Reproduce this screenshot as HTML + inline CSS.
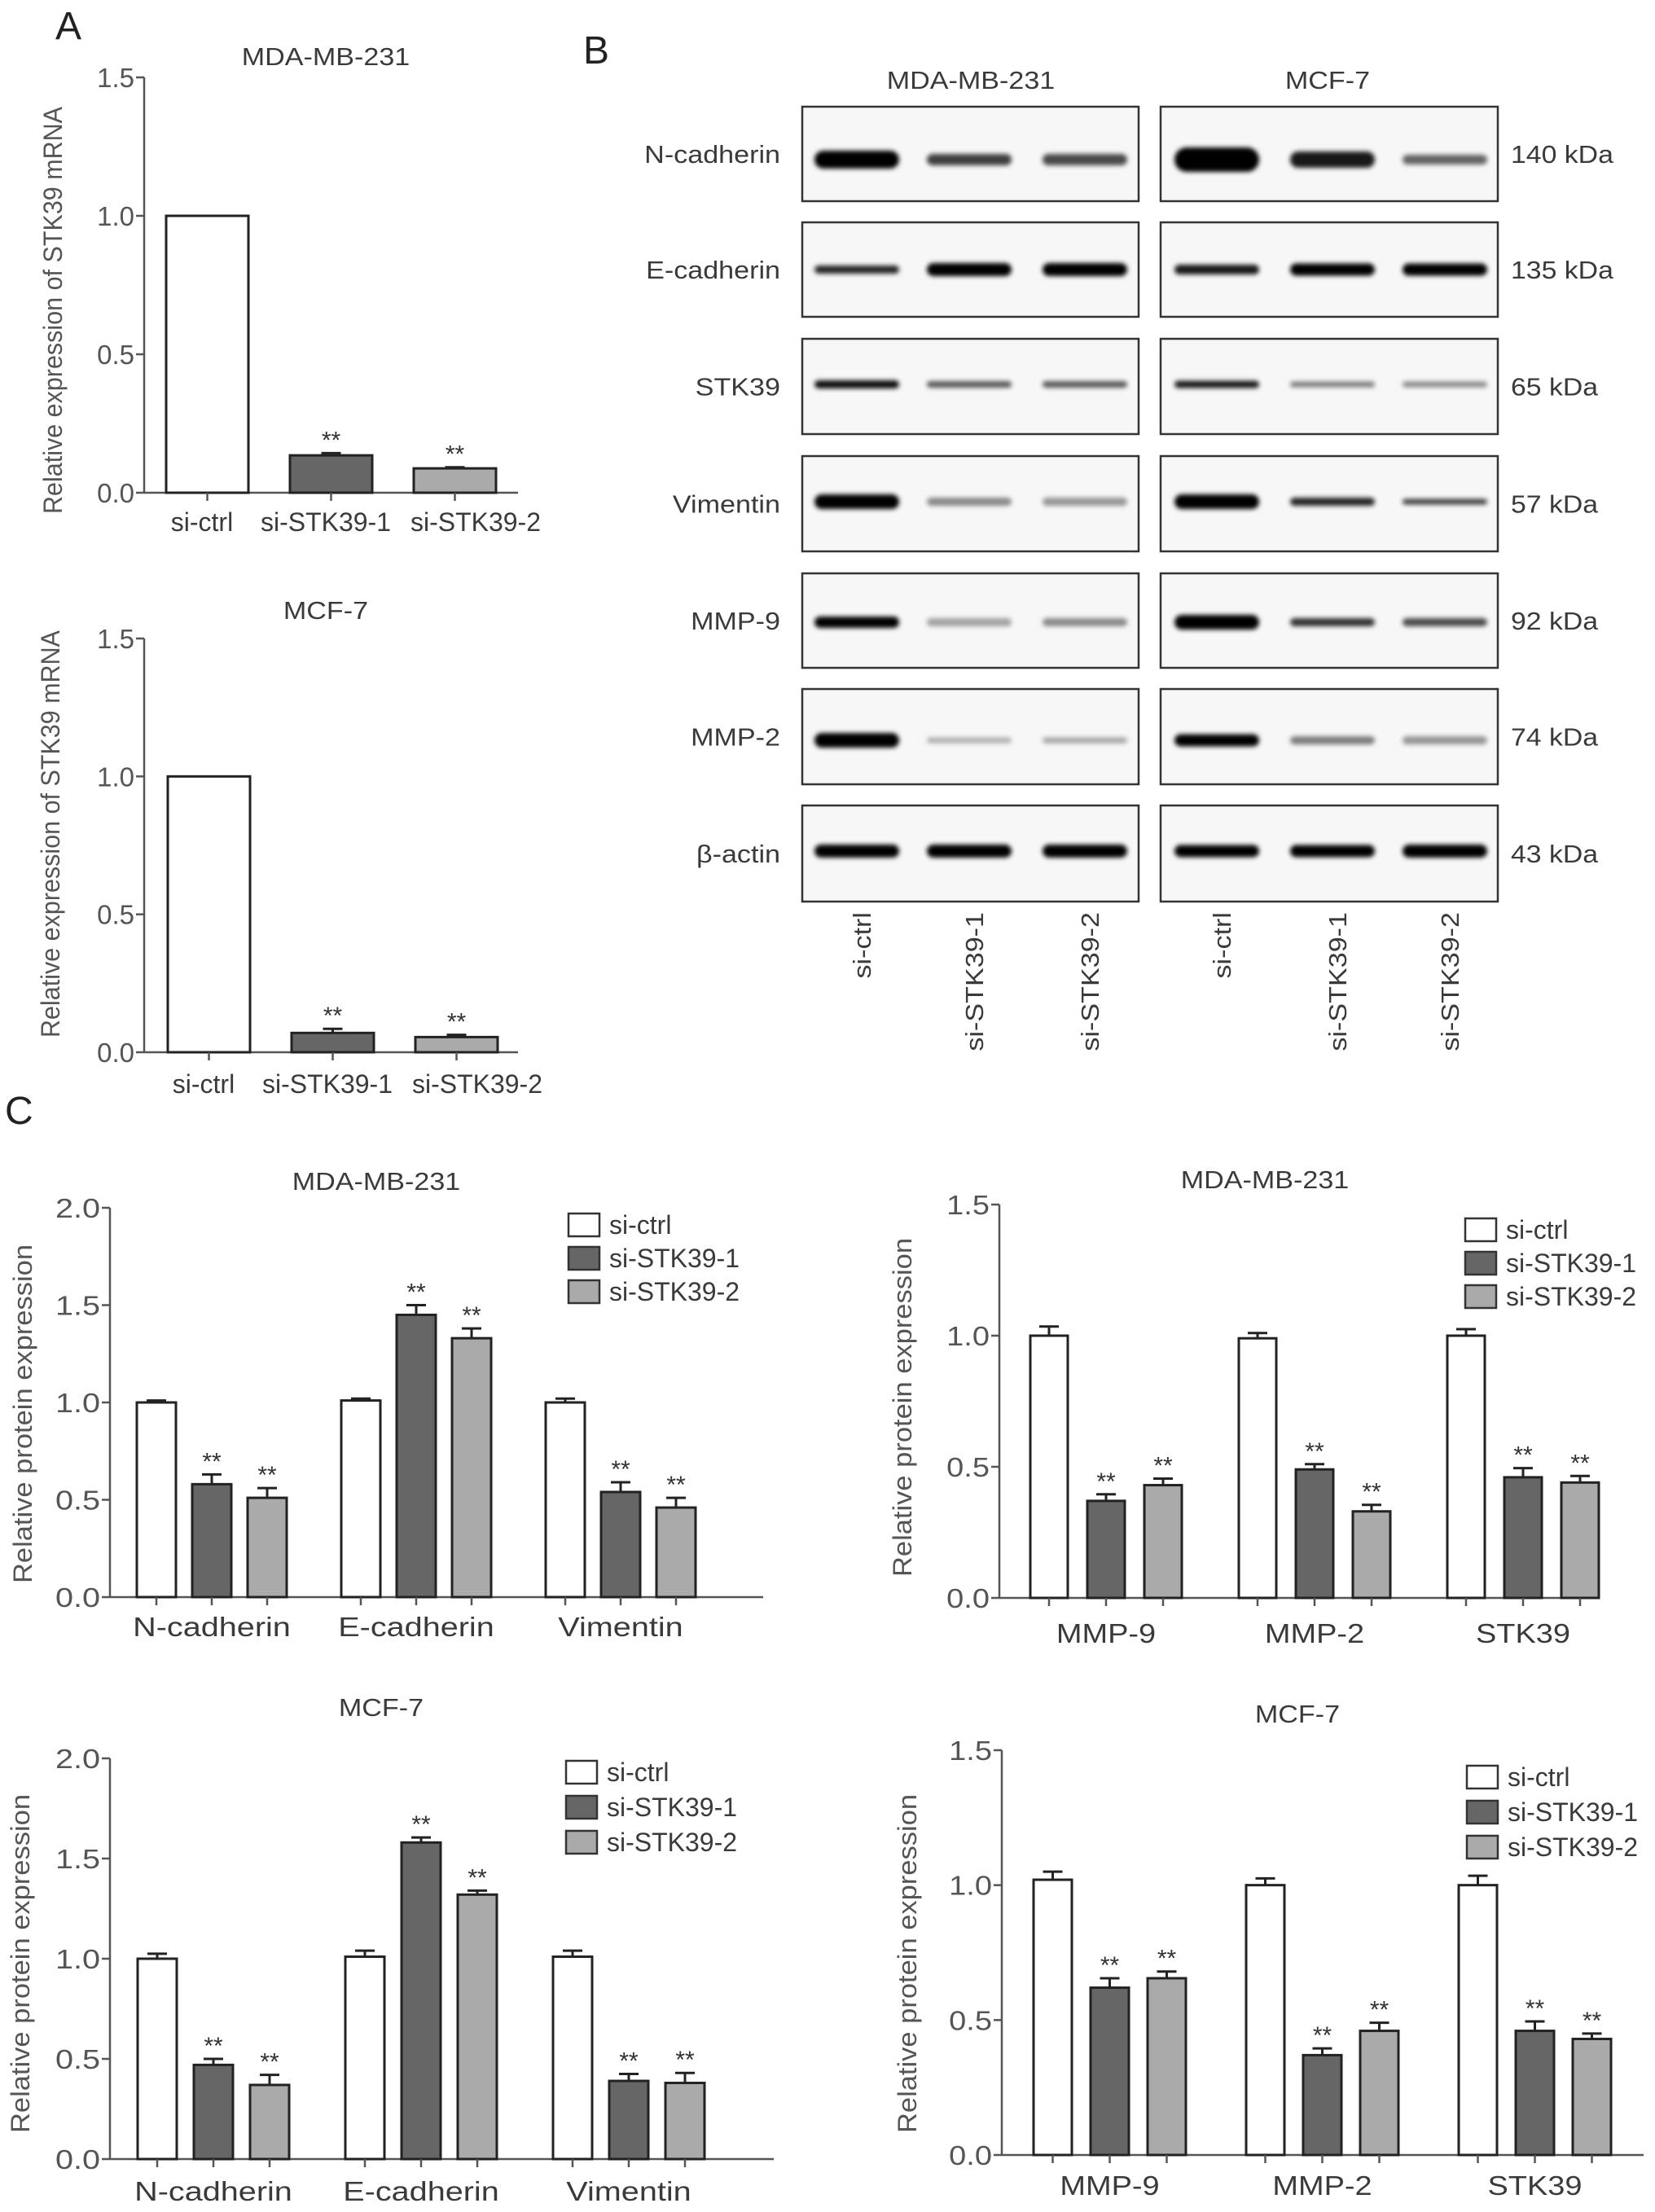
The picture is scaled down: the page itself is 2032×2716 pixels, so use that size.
<!DOCTYPE html>
<html><head><meta charset="utf-8">
<style>
html,body{margin:0;padding:0;background:#fff;}
svg{display:block;font-family:"Liberation Sans",Arial,sans-serif;}
</style></head>
<body>
<svg id="fig" xmlns="http://www.w3.org/2000/svg" width="2032" height="2716" viewBox="0 0 2032 2716">
<defs>
<filter id="blur" x="-20%" y="-100%" width="140%" height="300%"><feGaussianBlur stdDeviation="3"/></filter>
</defs>
<rect x="0" y="0" width="2032" height="2716" fill="#fff"/>
<text x="68" y="48" font-size="48" fill="#222">A</text>
<text x="716" y="78" font-size="48" fill="#222">B</text>
<text x="6" y="1380" font-size="48" fill="#222">C</text>
<g id="blot"></g>
<g id="charts"></g>
</svg>
<script>
// ---------- DATA ----------
const groupsA = ["si-ctrl","si-STK39-1","si-STK39-2"];
const mdaMrna = [1.0, 0.135, 0.088];
const mdaMrnaErr = [0, 0.008, 0.004];
const mcfMrna = [1.0, 0.07, 0.055];
const mcfMrnaErr = [0, 0.015, 0.008];
const mrnaTicks = [0, 0.5, 1.0, 1.5];

const seriesNames = ["si-ctrl","si-STK39-1","si-STK39-2"];
const emtCats = ["N-cadherin","E-cadherin","Vimentin"];
const mmpCats = ["MMP-9","MMP-2","STK39"];
const ticks2 = [0, 0.5, 1.0, 1.5, 2.0];
const ticks15 = [0, 0.5, 1.0, 1.5];

const mdaEmtCtrl = [1.0, 1.01, 1.0];
const mdaEmtSi1 = [0.58, 1.45, 0.54];
const mdaEmtSi2 = [0.51, 1.33, 0.46];
const mdaEmtErrCtrl = [0.01, 0.01, 0.02];
const mdaEmtErrSi1 = [0.05, 0.05, 0.05];
const mdaEmtErrSi2 = [0.05, 0.05, 0.05];

const mcfEmtCtrl = [1.0, 1.01, 1.01];
const mcfEmtSi1 = [0.47, 1.58, 0.39];
const mcfEmtSi2 = [0.37, 1.32, 0.38];
const mcfEmtErrCtrl = [0.025, 0.03, 0.03];
const mcfEmtErrSi1 = [0.03, 0.025, 0.035];
const mcfEmtErrSi2 = [0.05, 0.02, 0.05];

const mdaMmpCtrl = [1.0, 0.99, 1.0];
const mdaMmpSi1 = [0.37, 0.49, 0.46];
const mdaMmpSi2 = [0.43, 0.33, 0.44];
const mdaMmpErrCtrl = [0.035, 0.02, 0.025];
const mdaMmpErrSi1 = [0.025, 0.02, 0.035];
const mdaMmpErrSi2 = [0.025, 0.025, 0.025];

const mcfMmpCtrl = [1.02, 1.0, 1.0];
const mcfMmpSi1 = [0.62, 0.37, 0.46];
const mcfMmpSi2 = [0.655, 0.46, 0.43];
const mcfMmpErrCtrl = [0.03, 0.025, 0.035];
const mcfMmpErrSi1 = [0.035, 0.025, 0.035];
const mcfMmpErrSi2 = [0.025, 0.03, 0.02];

const blotProteins = ["N-cadherin","E-cadherin","STK39","Vimentin","MMP-9","MMP-2","\u03b2-actin"];
const blotKda = ["140 kDa","135 kDa","65 kDa","57 kDa","92 kDa","74 kDa","43 kDa"];
const bandIntensity = [
  [1.0,0.75,0.7, 1.0,0.9,0.6],
  [0.85,1.0,1.0, 0.9,1.0,1.0],
  [0.95,0.65,0.65, 0.9,0.5,0.45],
  [1.0,0.45,0.4, 1.0,0.85,0.75],
  [1.0,0.35,0.45, 1.0,0.8,0.7],
  [1.0,0.3,0.35, 1.0,0.5,0.4],
  [1.0,1.0,1.0, 1.0,1.0,1.0]
];
const bandThick = [
  [22,14,14, 30,20,12],
  [10,16,16, 12,15,15],
  [10,8,8, 9,7,7],
  [18,10,10, 18,10,7],
  [14,10,10, 18,10,10],
  [18,7,7, 15,10,10],
  [16,16,16, 15,15,16]
];
const laneLabels = ["si-ctrl","si-STK39-1","si-STK39-2","si-ctrl","si-STK39-1","si-STK39-2"];

// ---------- HELPERS ----------
const NS = "http://www.w3.org/2000/svg";
function mk(tag, attrs, parent){
  const e = document.createElementNS(NS, tag);
  for (const k in attrs) e.setAttribute(k, attrs[k]);
  parent.appendChild(e);
  return e;
}
function stretch(el, f){
  const w = el.getComputedTextLength();
  el.setAttribute("textLength", (w*f).toFixed(1));
  el.setAttribute("lengthAdjust", "spacingAndGlyphs");
}
function fixLen(el, L){
  el.setAttribute("textLength", L);
  el.setAttribute("lengthAdjust", "spacingAndGlyphs");
}
const fills = ["#ffffff","#666666","#aaaaaa"];
const TXT = "#3a3a3a";
const AX = "#555";

// ---------- BLOT ----------
const blot = document.getElementById("blot");
const boxTop = [131,273,416,560,704,846,989];
const boxBot = [247,389,533,677,820,963,1107];
const bandY = [196,331,472,616,764,909,1045];
const laneX = [1052,1190,1332,1494,1636,1774];
let h1 = mk("text",{x:1192,y:109,"font-size":31,"text-anchor":"middle",fill:TXT},blot);
h1.textContent="MDA-MB-231";


stretch(h1,1.1);
let h2 = mk("text",{x:1630,y:109,"font-size":31,"text-anchor":"middle",fill:TXT},blot);
h2.textContent="MCF-7";


stretch(h2,1.1);
blotProteins.forEach((p,i)=>{
  const lb = mk("rect",{x:985,y:boxTop[i],width:413,height:boxBot[i]-boxTop[i],fill:"#f7f7f7",stroke:"#333","stroke-width":2.5},blot);
  
  
  const rb = mk("rect",{x:1425,y:boxTop[i],width:414,height:boxBot[i]-boxTop[i],fill:"#f7f7f7",stroke:"#333","stroke-width":2.5},blot);
  
  
  const cy = (boxTop[i]+boxBot[i])/2;
  const t = mk("text",{x:958,y:cy+11,"font-size":31,"text-anchor":"end",fill:TXT},blot);
  t.textContent = p;
  
  
  stretch(t,1.1);
  const k = mk("text",{x:1855,y:cy+11,"font-size":31,fill:TXT},blot);
  k.textContent = blotKda[i];
  
  
  stretch(k,1.09);
  laneX.forEach((lx,j)=>{
    const th = bandThick[i][j];
    const b = mk("rect",{x:lx-52,y:bandY[i]-th/2,width:104,height:th,rx:th/2,fill:"#000","fill-opacity":bandIntensity[i][j],filter:"url(#blur)"},blot);
    
    
  });
});
laneLabels.forEach((l,j)=>{
  const t = mk("text",{x:0,y:0,"font-size":31,"text-anchor":"end",fill:TXT,transform:`translate(${laneX[j]+6+11},1120) rotate(-90)`},blot);
  t.textContent = l;
  
  
  stretch(t,1.1);
});

// ---------- CHARTS ----------
const charts = document.getElementById("charts");
function barChart(o){
  const g = mk("g",{},charts);
  
  
  const sf = o.stretch || 1.0;
  const ymax = o.ticks[o.ticks.length-1];
  const ys = v => o.y0 - (v/ymax)*(o.y0-o.yTop);
  const tt = mk("text",{x:o.titleX,y:o.titleY+11,"font-size":31,"text-anchor":"middle",fill:TXT},g);
  tt.textContent = o.title;
  
  
  stretch(tt,1.1);
  const ya = mk("line",{x1:o.x0,y1:o.yTop,x2:o.x0,y2:o.y0,stroke:AX,"stroke-width":2.5},g);
  
  
  o.ticks.forEach(tv=>{
    const y = ys(tv);
    const tl = mk("line",{x1:o.x0-10,y1:y,x2:o.x0,y2:y,stroke:AX,"stroke-width":2.5},g);
    
    
    const tx = mk("text",{x:o.x0-12,y:y+12,"font-size":33,"text-anchor":"end",fill:"#555"},g);
    tx.textContent = tv.toFixed(1);
    
    
    stretch(tx,sf);
  });
  const yt = mk("text",{x:0,y:0,"font-size":32,"text-anchor":"middle",fill:"#555",transform:`translate(${o.ytX+11},${o.ytY}) rotate(-90)`},g);
  yt.textContent = o.yTitle;
  
  
  fixLen(yt, o.ytLen);
  const xa = mk("line",{x1:o.x0,y1:o.y0,x2:o.xEnd,y2:o.y0,stroke:AX,"stroke-width":2.5},g);
  
  
  const nS = o.series.length;
  o.cats.forEach((c,ci)=>{
    for(let si=0; si<nS; si++){
      const bx = o.first + ci*o.groupStep + si*o.barStep;
      const v = o.series[si][ci];
      const e = o.errs[si][ci];
      const cx = bx + o.barW/2;
      const col = o.colors ? o.colors[ci] : fills[si];
      const r = mk("rect",{x:bx,y:ys(v),width:o.barW,height:o.y0-ys(v),fill:col,stroke:"#222","stroke-width":3},g);
      
      
      if (e>0){
        const el = mk("line",{x1:cx,y1:ys(v),x2:cx,y2:ys(v+e),stroke:"#222","stroke-width":3},g);
        
        
        const ec = mk("line",{x1:cx-12,y1:ys(v+e),x2:cx+12,y2:ys(v+e),stroke:"#222","stroke-width":3},g);
        
        
      }
      const sig = o.sig ? o.sig(si,ci) : si>0;
      if (sig){
        const st = mk("text",{x:cx,y:ys(v+e)-6,"font-size":30,"text-anchor":"middle",fill:"#333"},g);
        st.textContent = "**";
        
        
      }
      const tk = mk("line",{x1:cx,y1:o.y0,x2:cx,y2:o.y0+10,stroke:AX,"stroke-width":2.5},g);
      
      
    }
    const mid = o.labelX ? o.labelX[ci] : o.first + ci*o.groupStep + ((nS-1)/2)*o.barStep + o.barW/2;
    const xl = mk("text",{x:mid,y:o.xlY+12,"font-size":o.xlSize||33,"text-anchor":"middle",fill:TXT},g);
    xl.textContent = c;
    
    
    stretch(xl,sf);
  });
  if (o.legend){
    seriesNames.forEach((n,i)=>{
      const cy = o.legend.y + i*o.legend.step;
      const lb = mk("rect",{x:o.legend.x,y:cy-14,width:38,height:28,fill:fills[i],stroke:"#333","stroke-width":2.5},g);
      
      
      const lt = mk("text",{x:o.legend.x+50,y:cy+11,"font-size":32,fill:TXT},g);
      lt.textContent = n;
      
      
    });
  }
}

// Panel A
barChart({name:"chart-a-mda", title:"MDA-MB-231", titleX:400, titleY:69,
  x0:177, y0:605, yTop:95, ticks:mrnaTicks, xEnd:636, cats:groupsA,
  series:[mdaMrna], errs:[mdaMrnaErr], colors:fills, first:204, groupStep:152, barStep:0, barW:101,
  sig:(s,c)=>c>0, xlY:640, labelX:[248,400,584], xlSize:32,
  yTitle:"Relative expression of STK39 mRNA", ytX:65, ytY:381, ytLen:500});
barChart({name:"chart-a-mcf7", title:"MCF-7", titleX:400, titleY:749,
  x0:177, y0:1292, yTop:784, ticks:mrnaTicks, xEnd:636, cats:groupsA,
  series:[mcfMrna], errs:[mcfMrnaErr], colors:fills, first:206, groupStep:152, barStep:0, barW:101,
  sig:(s,c)=>c>0, xlY:1330, labelX:[250,402,586], xlSize:32,
  yTitle:"Relative expression of STK39 mRNA", ytX:62, ytY:1024, ytLen:500});

// Panel C
barChart({name:"chart-c-mda-emt", title:"MDA-MB-231", titleX:462, titleY:1450,
  x0:135, y0:1961, yTop:1483, ticks:ticks2, xEnd:937, cats:emtCats,
  series:[mdaEmtCtrl,mdaEmtSi1,mdaEmtSi2], errs:[mdaEmtErrCtrl,mdaEmtErrSi1,mdaEmtErrSi2],
  first:168, groupStep:251, barStep:68, barW:48, xlY:1997, stretch:1.2,
  yTitle:"Relative protein expression", ytX:28, ytY:1736, ytLen:416, legend:{x:698,y:1504,step:41}});
barChart({name:"chart-c-mda-mmp", title:"MDA-MB-231", titleX:1553, titleY:1448,
  x0:1227, y0:1962, yTop:1479, ticks:ticks15, xEnd:1942, cats:mmpCats,
  series:[mdaMmpCtrl,mdaMmpSi1,mdaMmpSi2], errs:[mdaMmpErrCtrl,mdaMmpErrSi1,mdaMmpErrSi2],
  first:1265, groupStep:256, barStep:70, barW:46, xlY:2005, stretch:1.15,
  yTitle:"Relative protein expression", ytX:1108, ytY:1728, ytLen:416, legend:{x:1799,y:1510,step:41}});
barChart({name:"chart-c-mcf7-emt", title:"MCF-7", titleX:468, titleY:2096,
  x0:135, y0:2651, yTop:2159, ticks:ticks2, xEnd:950, cats:emtCats,
  series:[mcfEmtCtrl,mcfEmtSi1,mcfEmtSi2], errs:[mcfEmtErrCtrl,mcfEmtErrSi1,mcfEmtErrSi2],
  first:169, groupStep:255, barStep:69, barW:48, xlY:2690, stretch:1.2,
  yTitle:"Relative protein expression", ytX:25, ytY:2411, ytLen:416, legend:{x:695,y:2176,step:43}});
barChart({name:"chart-c-mcf7-mmp", title:"MCF-7", titleX:1593, titleY:2104,
  x0:1230, y0:2646, yTop:2149, ticks:ticks15, xEnd:2018, cats:mmpCats,
  series:[mcfMmpCtrl,mcfMmpSi1,mcfMmpSi2], errs:[mcfMmpErrCtrl,mcfMmpErrSi1,mcfMmpErrSi2],
  first:1269, groupStep:261, barStep:70, barW:47, xlY:2683, stretch:1.15,
  yTitle:"Relative protein expression", ytX:1114, ytY:2411, ytLen:416, legend:{x:1801,y:2182,step:43}});
</script>
</body></html>
